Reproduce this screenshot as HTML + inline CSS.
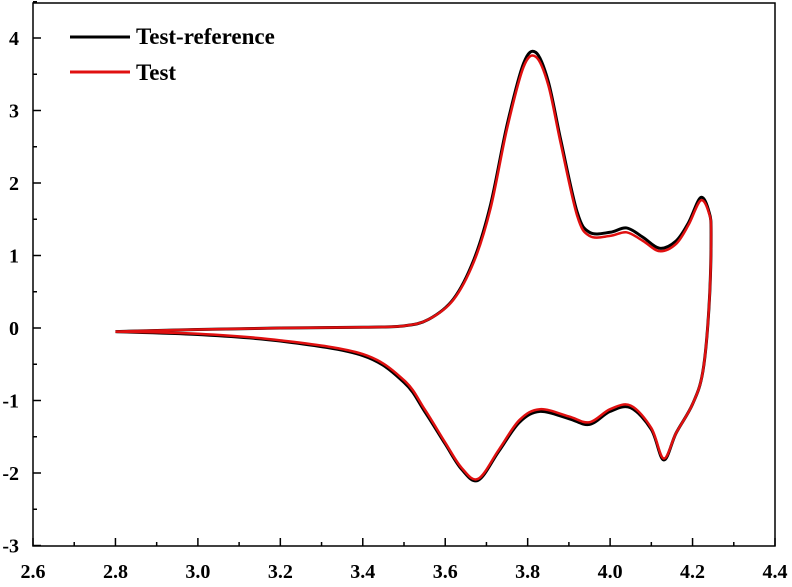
<!DOCTYPE html>
<html><head><meta charset="utf-8"><style>
body{margin:0;background:#fff}
svg text{font-family:"Liberation Serif",serif;font-weight:bold}
</style></head><body>
<svg width="792" height="582" xmlns="http://www.w3.org/2000/svg">
<g id="axes"></g>
<g id="series"></g>
<g>
<line x1="70" y1="37" x2="130" y2="37" stroke="#000" stroke-width="3"/>
<text x="136" y="44" font-size="23">Test-reference</text>
<line x1="70" y1="72" x2="130" y2="72" stroke="#e01010" stroke-width="3"/>
<text x="136" y="80" font-size="23">Test</text>
</g>
</svg>
<script>
const xTicks=[2.6,2.8,3.0,3.2,3.4,3.6,3.8,4.0,4.2,4.4];
const yTicks=[-3,-2,-1,0,1,2,3,4];
const refX=[2.8,3.0,3.2,3.4,3.5,3.56,3.62,3.67,3.71,3.75,3.79,3.82,3.85,3.88,3.92,3.95,4.0,4.04,4.08,4.12,4.16,4.19,4.22,4.24,4.245,4.24,4.225,4.2,4.16,4.13,4.1,4.05,4.0,3.95,3.9,3.83,3.78,3.73,3.68,3.64,3.6,3.55,3.5,3.4,3.2,3.0,2.8];
const refY=[-0.05,-0.02,0,0.01,0.03,0.12,0.4,0.95,1.7,2.8,3.65,3.8,3.4,2.6,1.6,1.32,1.32,1.38,1.25,1.1,1.2,1.45,1.8,1.6,1.3,0.3,-0.6,-1.05,-1.45,-1.82,-1.4,-1.1,-1.15,-1.33,-1.25,-1.15,-1.3,-1.7,-2.1,-1.95,-1.6,-1.15,-0.75,-0.38,-0.18,-0.09,-0.05];
const testX=refX.slice();
const testY=[-0.05,-0.02,0,0.01,0.03,0.12,0.39,0.92,1.65,2.75,3.6,3.74,3.35,2.55,1.55,1.27,1.27,1.32,1.2,1.06,1.16,1.42,1.76,1.58,1.3,0.3,-0.6,-1.05,-1.45,-1.8,-1.38,-1.07,-1.12,-1.3,-1.22,-1.12,-1.27,-1.68,-2.08,-1.93,-1.58,-1.12,-0.72,-0.36,-0.17,-0.08,-0.05];
const X=v=>33+(v-2.6)/1.8*742;
const Y=v=>545.5-(v+3)*72.5;
const NS="http://www.w3.org/2000/svg";
const ax=document.getElementById('axes');
function mk(t,a,p){const e=document.createElementNS(NS,t);for(const k in a)e.setAttribute(k,a[k]);p.appendChild(e);return e;}
const frame=mk('rect',{x:33,y:3,width:742,height:543,fill:'none',stroke:'#000','stroke-width':1.5},ax);


xTicks.forEach((v,i)=>{
 const l=mk('line',{x1:X(v),x2:X(v),y1:546,y2:538,stroke:'#000','stroke-width':1.5},ax);
 
 
 if(i<xTicks.length-1){const m=mk('line',{x1:X(v+0.1),x2:X(v+0.1),y1:546,y2:542,stroke:'#000','stroke-width':1.5},ax);
 
 }
 const t=mk('text',{x:X(v),y:578,'font-size':20,'text-anchor':'middle'},ax);t.textContent=v.toFixed(1);
 
 
});
yTicks.forEach((v,i)=>{
 const l=mk('line',{x1:33,x2:41,y1:Y(v),y2:Y(v),stroke:'#000','stroke-width':1.5},ax);
 
 
 const m=mk('line',{x1:33,x2:37,y1:Y(v+0.5),y2:Y(v+0.5),stroke:'#000','stroke-width':1.5},ax);
 
 
 const t=mk('text',{x:19,y:Y(v)+7,'font-size':20,'text-anchor':'end'},ax);t.textContent=String(v);
 
 
});
function path(xs,ys){
 const p=xs.map((x,i)=>[X(x),Y(ys[i])]);let d='M'+p[0];
 for(let i=0;i<p.length-1;i++){const a=p[i-1]||p[i],b=p[i],c=p[i+1],e=p[i+2]||c;
  d+=' C'+(b[0]+(c[0]-a[0])/6)+','+(b[1]+(c[1]-a[1])/6)+' '+(c[0]-(e[0]-b[0])/6)+','+(c[1]-(e[1]-b[1])/6)+' '+c[0]+','+c[1];}
 return d;}
const s=document.getElementById('series');
const r=mk('path',{d:path(refX,refY),fill:'none',stroke:'#000','stroke-width':3},s);


const t=mk('path',{d:path(testX,testY),fill:'none',stroke:'#e01010','stroke-width':2.5},s);


</script>
</body></html>
